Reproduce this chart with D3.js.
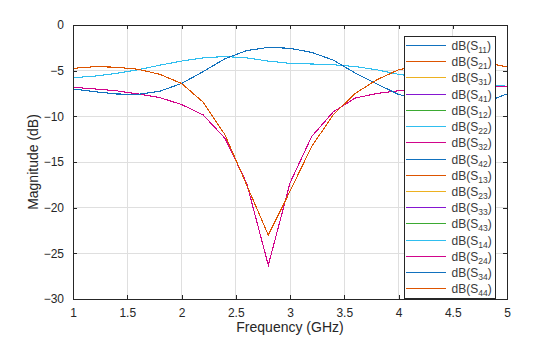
<!DOCTYPE html>
<html>
<head>
<meta charset="utf-8">
<script src="https://cdn.jsdelivr.net/npm/d3@7"></script>
<style>
  html, body { margin: 0; padding: 0; background: #fff; }
  svg { display: block; font-family: "Liberation Sans", Arial, Helvetica, sans-serif; }
</style>
</head>
<body>
<svg id="chart" width="560" height="337"></svg>
<script>
// ---- data ----
const freq = [1.0, 1.2, 1.4, 1.6, 1.8, 2.0, 2.2, 2.4, 2.6, 2.8, 3.0, 3.2, 3.4, 3.6, 3.8, 4.0, 4.2, 4.4, 4.6, 4.8, 5.0];
// through (blue peak)
const thru = [-7.0, -7.3, -7.55, -7.6, -7.25, -6.4, -5.1, -3.7, -2.8, -2.45, -2.55, -3.0, -3.85, -5.25, -6.45, -7.6, -8.2, -8.5, -8.6, -8.45, -7.55];
// coupled (light blue)
const coupled = [-5.77, -5.6, -5.3, -4.9, -4.4, -3.95, -3.6, -3.45, -3.6, -3.95, -4.2, -4.27, -4.35, -4.55, -4.9, -5.4, -5.7, -6.0, -6.3, -6.5, -6.7];
// reflection (orange notch)
const reflect = [-4.75, -4.56, -4.62, -4.85, -5.4, -6.4, -8.45, -12.0, -17.5, -23.0, -18.2, -13.3, -9.8, -7.5, -6.0, -4.9, -4.45, -4.2, -4.1, -4.1, -4.6];
// isolation (magenta notch)
const isolate = [-6.82, -7.0, -7.2, -7.55, -7.95, -8.7, -9.85, -12.4, -17.3, -26.3, -17.3, -12.2, -9.5, -8.0, -7.5, -7.2, -7.0, -6.9, -6.85, -6.8, -6.75];

const seriesNames = ["11","21","31","41","12","22","32","42","13","23","33","43","14","24","34","44"];
const seriesData  = [reflect, thru, isolate, coupled, thru, reflect, coupled, isolate, isolate, coupled, reflect, thru, coupled, isolate, thru, reflect];
const colors = ["#1171BE", "#DD5400", "#EDB120", "#8516D1", "#3BAA32", "#2FBEEF", "#D1048B"];

const xTicks = [1, 1.5, 2, 2.5, 3, 3.5, 4, 4.5, 5];
const yTicks = [0, -5, -10, -15, -20, -25, -30];

// ---- layout ----
const L = 73, R = 507, T = 25, B = 299;
const ink = "#262626";
const svg = d3.select("#chart");

const x = d3.scaleLinear().domain([1, 5]).range([L, R]);
const y = d3.scaleLinear().domain([-30, 0]).range([B, T]);

// grid
const grid = svg.append("g").attr("shape-rendering", "crispEdges");
grid.selectAll(".gx").data(xTicks).enter().append("line")
  .attr("x1", d => x(d)).attr("x2", d => x(d))
  .attr("y1", T).attr("y2", B).attr("stroke", "#dfdfdf");
grid.selectAll(".gy").data(yTicks).enter().append("line")
  .attr("y1", d => y(d)).attr("y2", d => y(d))
  .attr("x1", L).attr("x2", R).attr("stroke", "#dfdfdf");

// lines
svg.append("clipPath").attr("id", "clip").append("rect")
  .attr("x", L).attr("y", T).attr("width", R - L).attr("height", B - T);
const line = d3.line().x((d, i) => x(freq[i])).y(d => y(d));
const lines = svg.append("g").attr("clip-path", "url(#clip)");
seriesData.forEach((arr, i) => {
  lines.append("path").datum(arr)
    .attr("d", line)
    .attr("fill", "none")
    .attr("stroke", colors[i % colors.length])
    .attr("stroke-width", 1.1)
    .attr("shape-rendering", "crispEdges");
});

// axes (ticks inward)
const tl = 4;
const axB = d3.axisBottom(x).tickValues(xTicks).tickSize(-tl).tickPadding(9).tickFormat(d3.format("~g"));
const axT = d3.axisTop(x).tickValues(xTicks).tickSize(-tl).tickFormat("");
const axL = d3.axisLeft(y).tickValues(yTicks).tickSize(-tl).tickPadding(9).tickFormat(d3.format("~g"));
const axR = d3.axisRight(y).tickValues(yTicks).tickSize(-tl).tickFormat("");

function style(g) {
  g.attr("font-family", null).attr("font-size", null);
  g.select(".domain").remove();
  g.selectAll("line").attr("stroke", ink).attr("shape-rendering", "crispEdges");
  g.selectAll("text").attr("fill", ink).style("font-size", "12px");
}
svg.append("g").attr("transform", `translate(0,${B})`).call(axB).call(style);
svg.append("g").attr("transform", `translate(0,${T})`).call(axT).call(style);
svg.append("g").attr("transform", `translate(${L},0)`).call(axL).call(style);
svg.append("g").attr("transform", `translate(${R},0)`).call(axR).call(style);
svg.append("rect").attr("x", L).attr("y", T).attr("width", R - L).attr("height", B - T)
  .attr("fill", "none").attr("stroke", ink).attr("shape-rendering", "crispEdges");

// axis labels
svg.append("text").attr("x", (L + R) / 2).attr("y", 332)
  .attr("text-anchor", "middle").attr("fill", ink).style("font-size", "14px")
  .text("Frequency (GHz)");
svg.append("text").attr("transform", `translate(38,${(T + B) / 2}) rotate(-90)`)
  .attr("text-anchor", "middle").attr("fill", ink).style("font-size", "14px")
  .text("Magnitude (dB)");

// legend
const lg = svg.append("g");
const lx0 = 404, ly0 = 36, lw = 91, lh = 262;
lg.append("rect").attr("x", lx0).attr("y", ly0).attr("width", lw).attr("height", lh)
  .attr("fill", "#fff").attr("stroke", ink).attr("shape-rendering", "crispEdges");
const ly = d3.scaleLinear().domain([0, 15]).range([45, 288.3]);
seriesNames.forEach((n, i) => {
  const yy = Math.round(ly(i)) + 0.5;
  lg.append("line").attr("x1", 406).attr("x2", 446).attr("y1", yy).attr("y2", yy)
    .attr("stroke", colors[i % colors.length]).attr("stroke-width", 1.2);
  const t = lg.append("text").attr("x", 451.5).attr("y", yy + 4).attr("fill", "#3a3a3a").style("font-size", "12px");
  t.append("tspan").text("dB(S");
  t.append("tspan").attr("dy", 3).style("font-size", "8.5px").text(n);
  t.append("tspan").attr("dy", -3).text(")");
});
</script>
</body>
</html>
